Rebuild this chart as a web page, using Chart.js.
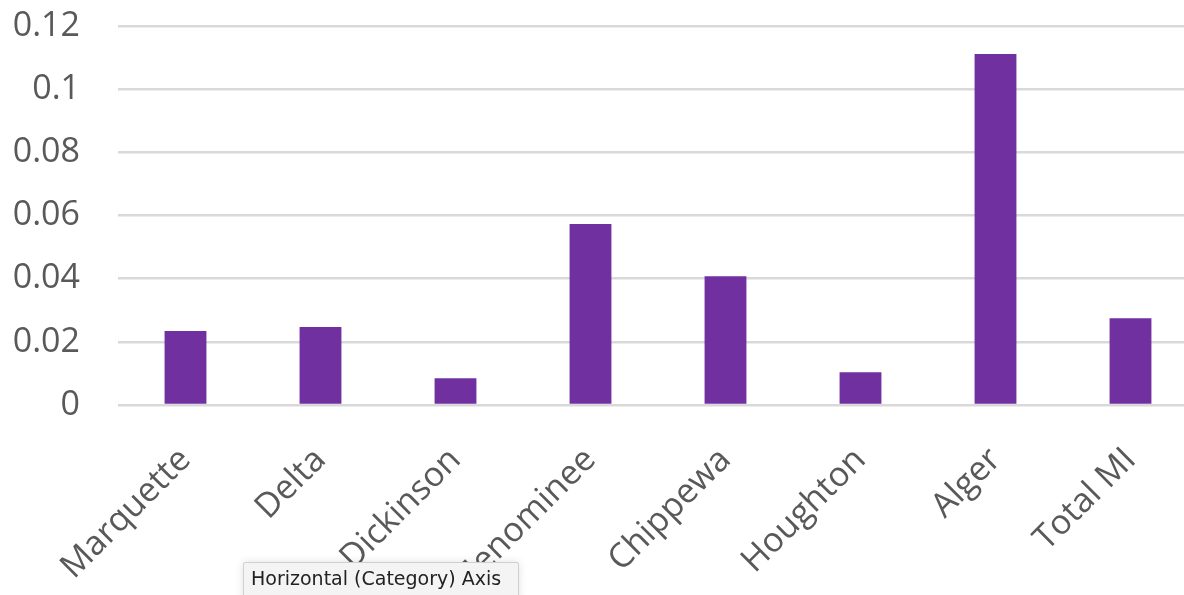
<!DOCTYPE html>
<html>
<head>
<meta charset="utf-8">
<script src="https://cdn.jsdelivr.net/npm/chart.js@4"></script>
<style>
  html, body { margin: 0; padding: 0; background: #fff; overflow: hidden; }
  #wrap { position: relative; width: 1198px; height: 595px; }
  #hint {
    position: absolute; left: 243px; top: 562px; width: 276px; height: 40px;
    padding: 4px 0 0 7px; box-sizing: border-box;
    background: #f4f4f4; border: 1px solid #d0d0d0; border-radius: 2px;
    box-shadow: 0 0 8px rgba(0,0,0,0.12);
    font: 19px "DejaVu Sans", sans-serif; color: #222;
    white-space: nowrap;
  }
</style>
</head>
<body>
<div id="wrap">
  <canvas id="c" width="1198" height="595"></canvas>
  <div id="hint">Horizontal (Category) Axis</div>
</div>
<script>
const counties = ["Marquette", "Delta", "Dickinson", "Menominee", "Chippewa", "Houghton", "Alger", "Total MI"];
const rates = [0.0234, 0.0247, 0.0085, 0.0573, 0.0408, 0.0104, 0.1111, 0.0275];
const yTicks = [0, 0.02, 0.04, 0.06, 0.08, 0.1, 0.12];

const textColor = "#595959";
const font = { family: "'Open Sans', 'DejaVu Sans', sans-serif", size: 34 };

new Chart(document.getElementById("c"), {
  type: "bar",
  data: {
    labels: counties,
    datasets: [{
      data: rates,
      backgroundColor: "#7030a0",
      borderWidth: 0,
      categoryPercentage: 1,
      barPercentage: 0.31
    }]
  },
  options: {
    responsive: false,
    animation: false,
    layout: { padding: 0 },
    plugins: { legend: { display: false }, tooltip: { enabled: false } },
    scales: {
      x: {
        grid: { display: false },
        border: { display: false },
        ticks: {
          color: textColor, font: font,
          minRotation: 45, maxRotation: 45, padding: 27, autoSkip: false
        },
        afterFit(scale) { scale.height = 190; }
      },
      y: {
        min: 0, max: 0.12,
        afterBuildTicks(scale) { scale.ticks = yTicks.map(v => ({ value: v })); },
        grid: { color: "#d9d9d9", lineWidth: 2.5, drawTicks: false },
        border: { display: false },
        ticks: {
          color: textColor, font: font, padding: 38,
          callback: v => String(Math.round(v * 100) / 100)
        },
        afterFit(scale) {
          scale.width = 118;
          scale.paddingTop = 26;
          scale.paddingBottom = 0;
        }
      }
    }
  }
});
</script>
</body>
</html>
